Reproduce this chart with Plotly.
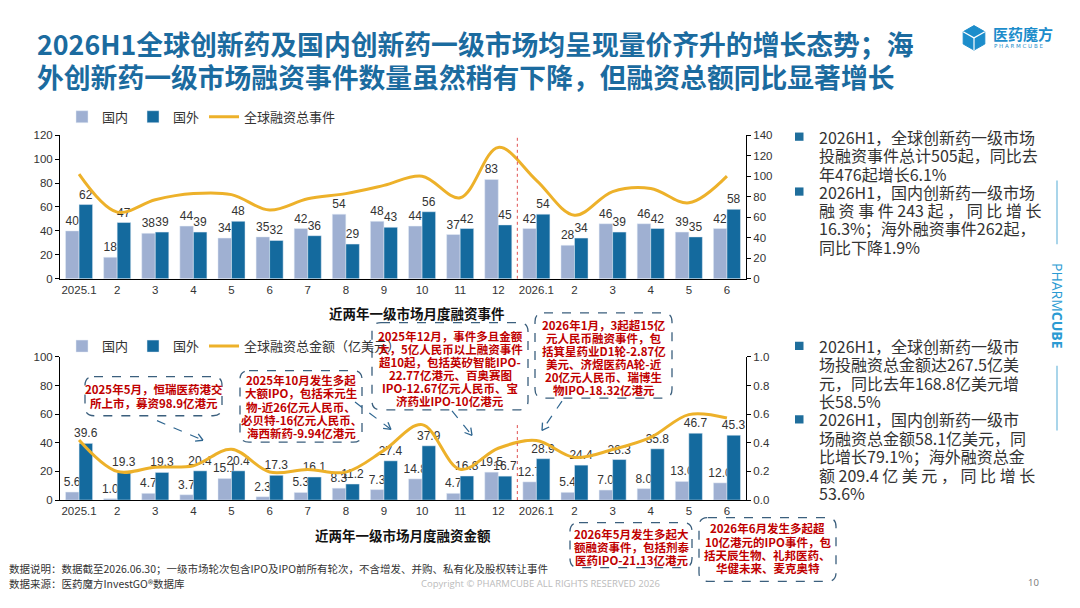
import plotly.graph_objects as go
import math

# ---------------- data ----------------
months = ["2025.1", "2", "3", "4", "5", "6", "7", "8", "9", "10", "11", "12",
          "2026.1", "2", "3", "4", "5", "6"]
events_dom = [40, 18, 38, 44, 34, 35, 42, 54, 48, 44, 37, 83, 42, 28, 46, 46, 39, 42]
events_ovs = [62, 47, 39, 39, 48, 32, 36, 29, 43, 56, 42, 45, 54, 34, 39, 42, 35, 58]
events_total = [102, 65, 77, 83, 82, 67, 78, 83, 91, 100, 79, 128, 96, 62, 85, 88, 74, 100]
amt_dom = [5.6, 1.0, 4.7, 3.7, 15.1, 2.3, 5.3, 8.3, 7.3, 14.8, 4.7, 19.5, 12.7, 5.4, 7.0, 8.0, 13.0, 12.0]
amt_ovs = [39.6, 19.3, 19.3, 20.4, 20.4, 17.3, 16.1, 11.2, 27.4, 37.9, 16.8, 16.7, 28.9, 24.4, 28.3, 35.8, 46.7, 45.3]
amt_total = [42.0, 20.0, 23.0, 24.0, 35.5, 19.6, 21.4, 19.5, 34.7, 52.7, 21.5, 36.2, 41.6, 29.8, 35.3, 43.8, 59.7, 57.3]
amt_right_ticks = ["0.0", "0.2", "0.4", "0.6", "0.8", "1.0"]

xpos = list(range(len(months)))

W, H = 1080, 608
LIGHT = "#9FB0D2"
DARK = "#146A9E"
GOLD = "#EDB12A"
RED = "#C00000"
BLUE = "#1B6B9F"
CJK = "Noto Sans CJK SC"
NUM = "Liberation Sans"


def X(px):
    return px / W


def Y(py):
    return 1 - py / H


fig = go.Figure()
lab_font = dict(family=NUM, size=12, color="#333")

# ---------------- top chart ----------------
fig.add_trace(go.Bar(x=xpos, y=events_dom, name="国内", marker_color=LIGHT,
                     text=events_dom, textposition="outside", cliponaxis=False, constraintext="none",
                     textfont=lab_font, xaxis="x", yaxis="y", legend="legend"))
fig.add_trace(go.Bar(x=xpos, y=events_ovs, name="国外", marker_color=DARK,
                     text=events_ovs, textposition="outside", cliponaxis=False, constraintext="none",
                     textfont=lab_font, xaxis="x", yaxis="y", legend="legend"))
fig.add_trace(go.Scatter(x=xpos, y=events_total, name="全球融资总事件", mode="lines",
                         line=dict(color=GOLD, width=3, shape="spline", smoothing=1.0),
                         xaxis="x", yaxis="y2", legend="legend"))

# ---------------- bottom chart ----------------
fig.add_trace(go.Bar(x=xpos, y=amt_dom, name="国内", marker_color=LIGHT,
                     text=[f"{v:.1f}" for v in amt_dom], textposition="outside", cliponaxis=False,
                     constraintext="none", textfont=lab_font,
                     xaxis="x2", yaxis="y3", legend="legend2"))
fig.add_trace(go.Bar(x=xpos, y=amt_ovs, name="国外", marker_color=DARK,
                     text=[f"{v:.1f}" for v in amt_ovs], textposition="outside", cliponaxis=False,
                     constraintext="none", textfont=lab_font,
                     xaxis="x2", yaxis="y3", legend="legend2"))
fig.add_trace(go.Scatter(x=xpos, y=amt_total, name="全球融资总金额（亿美元）", mode="lines",
                         line=dict(color=GOLD, width=3, shape="spline", smoothing=1.0),
                         xaxis="x2", yaxis="y4", legend="legend2"))

xdom = [X(60), X(746)]
axis_common = dict(showgrid=False, zeroline=False, showline=True, linecolor="#000",
                   linewidth=1, tickfont=dict(family=NUM, size=11.5, color="#333"))
fig.update_layout(
    width=W, height=H, margin=dict(l=0, r=0, t=0, b=0),
    paper_bgcolor="white", plot_bgcolor="rgba(0,0,0,0)",
    barmode="group", bargap=0.29, bargroupgap=0,
    showlegend=True,
    font=dict(family=CJK, color="#333"),
    xaxis=dict(domain=xdom, anchor="y", range=[-0.5, 17.5], tickmode="array",
               tickvals=xpos, ticktext=months, ticks="", **axis_common),
    yaxis=dict(domain=[Y(278.3), Y(131.7)], range=[0, 120], dtick=20,
               ticks="outside", ticklen=4, tickcolor="#000", **axis_common),
    yaxis2=dict(overlaying="y", side="right", anchor="x", range=[0, 140], dtick=20,
                ticks="outside", ticklen=4, tickcolor="#000", **axis_common),
    xaxis2=dict(domain=xdom, anchor="y3", range=[-0.5, 17.5], tickmode="array",
                tickvals=xpos, ticktext=months, ticks="", **axis_common),
    yaxis3=dict(domain=[Y(504), Y(358)], range=[0, 100], dtick=20,
                ticks="outside", ticklen=4, tickcolor="#000", **axis_common),
    yaxis4=dict(overlaying="y3", side="right", anchor="x2", range=[0, 100],
                tickmode="array", tickvals=[0, 20, 40, 60, 80, 100], ticktext=amt_right_ticks,
                ticks="outside", ticklen=4, tickcolor="#000", **axis_common),
    legend=dict(orientation="h", x=X(62), y=Y(113), xanchor="left", yanchor="middle",
                font=dict(family=CJK, size=13, color="#333"), bgcolor="rgba(0,0,0,0)",
                itemwidth=30, tracegroupgap=0),
    legend2=dict(orientation="h", x=X(62), y=Y(347), xanchor="left", yanchor="middle",
                 font=dict(family=CJK, size=13, color="#333"), bgcolor="rgba(0,0,0,0)",
                 itemwidth=30, tracegroupgap=0),
)

shapes = []
annotations = []

# divider lines between 2025 and 2026
shapes.append(dict(type="line", xref="x", yref="y", x0=11.5, x1=11.5, y0=0, y1=118,
                   line=dict(color="#E05050", width=1, dash="dot")))
shapes.append(dict(type="line", xref="x2", yref="y3", x0=11.5, x1=11.5, y0=0, y1=53,
                   line=dict(color="#E05050", width=1, dash="dot")))

# ---------------- title ----------------
title_lines = ["2026H1全球创新药及国内创新药一级市场均呈现量价齐升的增长态势；海",
               "外创新药一级市场融资事件数量虽然稍有下降，但融资总额同比显著增长"]
for i, t in enumerate(title_lines):
    annotations.append(dict(xref="paper", yref="paper", x=X(35), y=Y(38 + 34 * i),
                            xanchor="left", yanchor="middle", showarrow=False,
                            text=f"<b>{t}</b>", font=dict(family=CJK, size=26.8, color=BLUE)))

# ---------------- logo ----------------
cx, cy, r = 974, 32.5, 12.5
pts = [(cx + r * math.cos(math.radians(90 + 60 * k)), cy - r * math.sin(math.radians(90 + 60 * k)))
       for k in range(6)]
path = "M " + " L ".join(f"{X(p[0])},{Y(p[1])}" for p in pts) + " Z"
shapes.append(dict(type="path", xref="paper", yref="paper", path=path,
                   fillcolor="#1C8DCB", line=dict(color="#1C8DCB", width=1)))
inner = [(cx, cy), (cx, cy + r), (cx, cy), (cx - r * 0.866, cy - r * 0.5), (cx, cy), (cx + r * 0.866, cy - r * 0.5)]
for a, b in [(inner[0], inner[1]), (inner[2], inner[3]), (inner[4], inner[5])]:
    shapes.append(dict(type="line", xref="paper", yref="paper", x0=X(a[0]), y0=Y(a[1]),
                       x1=X(b[0]), y1=Y(b[1]), line=dict(color="white", width=1.2)))
annotations.append(dict(xref="paper", yref="paper", x=X(991), y=Y(28), xanchor="left",
                        yanchor="middle", showarrow=False, text="<b>医药魔方</b>",
                        font=dict(family=CJK, size=15, color="#1C8DCB")))
annotations.append(dict(xref="paper", yref="paper", x=X(992), y=Y(40.5), xanchor="left",
                        yanchor="middle", showarrow=False, text="P H A R M C U B E",
                        font=dict(family="DejaVu Sans", size=5.5, color="#1C8DCB")))

# ---------------- vertical brand ----------------
shapes.append(dict(type="line", xref="paper", yref="paper", x0=X(1057), x1=X(1057),
                   y0=Y(178), y1=Y(243), line=dict(color="#8CC7E3", width=1.5)))
shapes.append(dict(type="line", xref="paper", yref="paper", x0=X(1057), x1=X(1057),
                   y0=Y(367), y1=Y(433), line=dict(color="#8CC7E3", width=1.5)))
annotations.append(dict(xref="paper", yref="paper", x=X(1057), y=Y(306), xanchor="center",
                        yanchor="middle", showarrow=False, textangle=90,
                        text="PHARM<b>CUBE</b>", font=dict(family="Open Sans", size=14, color="#2B9BD3")))

# ---------------- subtitles ----------------
annotations.append(dict(xref="paper", yref="paper", x=X(417), y=Y(313), showarrow=False,
                        yanchor="middle",
                        text="<b>近两年一级市场月度融资事件</b>", font=dict(family=CJK, size=13.5, color="#111")))
annotations.append(dict(xref="paper", yref="paper", x=X(403), y=Y(540), showarrow=False,
                        yanchor="middle",
                        text="<b>近两年一级市场月度融资金额</b>", font=dict(family=CJK, size=13.5, color="#111")))

# ---------------- right text ----------------
right_blocks = [
    (133.3, ["2026H1，全球创新药一级市场", "投融资事件总计505起，同比去", "年476起增长6.1%"]),
    (189.3, ["2026H1，国内创新药一级市场", "融 资 事 件 243 起 ， 同 比 增 长", "16.3%；海外融资事件262起，", "同比下降1.9%"]),
    (346.7, ["2026H1，全球创新药一级市", "场投融资总金额达267.5亿美", "元，同比去年168.8亿美元增", "长58.5%"]),
    (421.7, ["2026H1，国内创新药一级市", "场融资总金额58.1亿美元，同", "比增长79.1%；海外融资总金", "额 209.4 亿 美 元 ， 同 比 增 长", "53.6%"]),
]
for y0, lines in right_blocks:
    shapes.append(dict(type="rect", xref="paper", yref="paper", x0=X(795), x1=X(803.5),
                       y0=Y(y0 + 4.2), y1=Y(y0 - 4.2), fillcolor="#1F6E9C", line=dict(width=0)))
    for i, t in enumerate(lines):
        annotations.append(dict(xref="paper", yref="paper", x=X(817), y=Y(y0 + 18.8 * i),
                                xanchor="left", yanchor="middle", showarrow=False, text=t,
                                font=dict(family=CJK, size=16, color="#333")))

# ---------------- callout boxes ----------------
def rounded_box(x0, y0, x1, y1, rad=9):
    p = [
        f"M {X(x0 + rad)},{Y(y0)}", f"L {X(x1 - rad)},{Y(y0)}",
        f"Q {X(x1)},{Y(y0)} {X(x1)},{Y(y0 + rad)}", f"L {X(x1)},{Y(y1 - rad)}",
        f"Q {X(x1)},{Y(y1)} {X(x1 - rad)},{Y(y1)}", f"L {X(x0 + rad)},{Y(y1)}",
        f"Q {X(x0)},{Y(y1)} {X(x0)},{Y(y1 - rad)}", f"L {X(x0)},{Y(y0 + rad)}",
        f"Q {X(x0)},{Y(y0)} {X(x0 + rad)},{Y(y0)} Z",
    ]
    return dict(type="path", xref="paper", yref="paper", path=" ".join(p),
                line=dict(color="#3B5F7D", width=1.3, dash="dash"), fillcolor="rgba(255,255,255,0)")


boxes = [
    ((85, 378, 222, 418), 153.5, [391, 405.5],
     ["2025年5月，恒瑞医药港交", "所上市，募资98.9亿港元"]),
    ((240, 372, 362, 445), 301, [382, 395.3, 408.6, 421.9, 435.2],
     ["2025年10月发生多起", "大额IPO，包括禾元生", "物-近26亿元人民币、", "必贝特-16亿元人民币、", "海西新药-9.94亿港元"]),
    ((372, 323, 528, 412), 450, [336.5, 349.8, 363.1, 376.4, 389.7, 403],
     ["2025年12月，事件多且金额", "大，5亿人民币以上融资事件", "超10起，包括英矽智能IPO-", "22.77亿港元、百奥赛图",
      "IPO-12.67亿元人民币、宝", "济药业IPO-10亿港元"]),
    ((535, 313, 672, 400), 603.5, [325, 338.3, 351.6, 364.9, 378.2, 391.5],
     ["2026年1月，3起超15亿", "元人民币融资事件，包", "括箕星药业D1轮-2.87亿", "美元、济煜医药A轮-近",
      "20亿元人民币、瑞博生", "物IPO-18.32亿港元"]),
    ((570, 527, 692, 573), 631, [538.3, 551.7, 565],
     ["2026年5月发生多起大", "额融资事件，包括剂泰", "医药IPO-21.13亿港元"]),
    ((699, 522, 836, 587), 767.5, [533, 546.5, 560, 573.5],
     ["2026年6月发生多起超", "10亿港元的IPO事件，包", "括天辰生物、礼邦医药、", "华健未来、麦克奥特"]),
]
for (bx0, by0, bx1, by1), tcx, ys, lines in boxes:
    shapes.append(rounded_box(bx0, by0, bx1, by1))
    for yy, t in zip(ys, lines):
        annotations.append(dict(xref="paper", yref="paper", x=X(tcx), y=Y(yy), xanchor="center",
                                yanchor="middle", showarrow=False, text=f"<b>{t}</b>",
                                font=dict(family=CJK, size=11.5, color=RED)))

# dashed arrows
arrows = [((157, 423), (203, 443)), ((355, 404), (391, 432)),
          ((452, 413), (472, 438)), ((562, 403), (542, 433))]
for (ax0, ay0), (ax1, ay1) in arrows:
    shapes.append(dict(type="line", xref="paper", yref="paper", x0=X(ax0), y0=Y(ay0),
                       x1=X(ax1), y1=Y(ay1), line=dict(color="#2F6690", width=1.2, dash="dash")))
    ang = math.atan2(ay1 - ay0, ax1 - ax0)
    L = 8
    for s in (-1, 1):
        a2 = ang + math.pi + s * math.radians(30)
        hx, hy = ax1 + L * math.cos(a2), ay1 + L * math.sin(a2)
        shapes.append(dict(type="line", xref="paper", yref="paper", x0=X(ax1), y0=Y(ay1),
                           x1=X(hx), y1=Y(hy), line=dict(color="#2F6690", width=1.3)))

# ---------------- footer ----------------
annotations.append(dict(xref="paper", yref="paper", x=X(7), y=Y(574), xanchor="left", yanchor="middle",
                        showarrow=False,
                        text="数据说明：数据截至2026.06.30；一级市场轮次包含IPO及IPO前所有轮次，不含增发、并购、私有化及股权转让事件",
                        font=dict(family=CJK, size=10.5, color="#333")))
annotations.append(dict(xref="paper", yref="paper", x=X(7), y=Y(589), xanchor="left", yanchor="middle",
                        showarrow=False, text="数据来源：医药魔方InvestGO®数据库",
                        font=dict(family=CJK, size=10.5, color="#333")))
annotations.append(dict(xref="paper", yref="paper", x=X(540), y=Y(589), xanchor="center", yanchor="middle",
                        showarrow=False, text="Copyright © PHARMCUBE ALL RIGHTS RESERVED 2026",
                        font=dict(family="Open Sans", size=9.5, color="#BBBBBB")))
annotations.append(dict(xref="paper", yref="paper", x=X(1033), y=Y(588), xanchor="center", yanchor="middle",
                        showarrow=False, text="10", font=dict(family="Open Sans", size=9.5, color="#777")))

fig.update_layout(shapes=shapes, annotations=annotations)
fig.write_html("out.html",
               config={"displayModeBar": False, "staticPlot": True},
               post_script="document.body.style.margin='0';")
